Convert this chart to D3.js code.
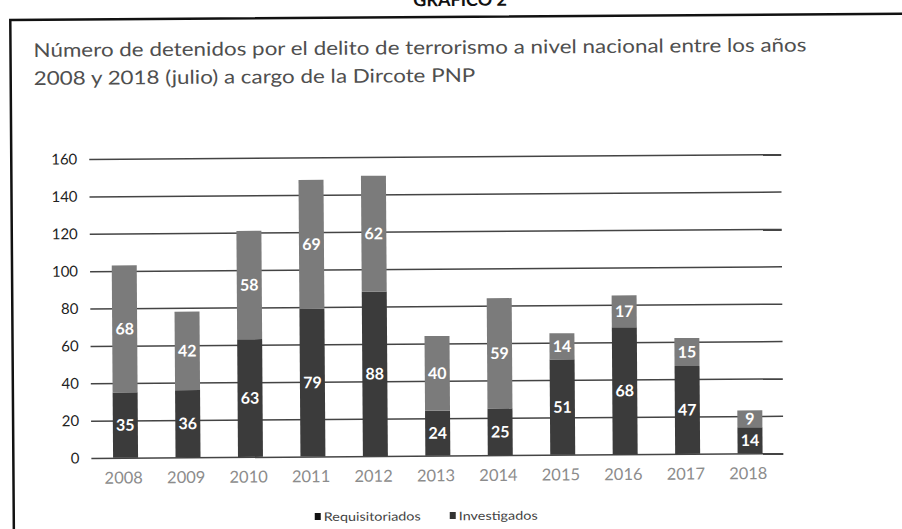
<!DOCTYPE html>
<html>
<head>
<meta charset="utf-8">
<script src="https://cdn.jsdelivr.net/npm/d3@7"></script>
<style>
  body { margin: 0; background: #fff; }
  svg { display: block; font-family: Lato, "Open Sans", sans-serif; }
</style>
</head>
<body>
<div id="chart"></div>
<script>
// Detenidos por terrorismo (Dircote PNP), 2008 - 2018 (julio)
const years = ['2008', '2009', '2010', '2011', '2012', '2013', '2014', '2015', '2016', '2017', '2018'];
const requisitoriados = [35, 36, 63, 79, 88, 24, 25, 51, 68, 47, 14];
const investigados = [68, 42, 58, 69, 62, 40, 59, 14, 17, 15, 9];
const seriesNames = ['Requisitoriados', 'Investigados'];
const yTicks = [0, 20, 40, 60, 80, 100, 120, 140, 160];

const width = 902, height = 529;
const colors = { Requisitoriados: '#3b3b3b', Investigados: '#7b7b7b' };

const rows = years.map((y, i) => ({ year: y, Requisitoriados: requisitoriados[i], Investigados: investigados[i] }));
const stacked = d3.stack().keys(seriesNames)(rows);

const svg = d3.select('#chart')
  .append('svg')
  .attr('width', width)
  .attr('height', height);

// scanned page is slightly tilted
const page = svg.append('g').attr('transform', 'rotate(-0.4, 451, 264)');

// header, mostly cut off at the top of the scan
page.append('text')
  .attr('x', 462)
  .attr('y', 6)
  .attr('text-anchor', 'middle')
  .attr('font-size', 18)
  .attr('font-weight', 'bold')
  .attr('fill', '#111')
  .text('GRÁFICO 2');

// frame
page.append('path')
  .attr('d', 'M12,540 L12,17 L910,17')
  .attr('fill', 'none')
  .attr('stroke', '#111')
  .attr('stroke-width', 2.5);

// title (scan is a bit stretched sideways)
const title = page.append('text')
  .attr('transform', 'translate(35,0) scale(1.18,1)')
  .attr('fill', '#4f4f4f')
  .attr('font-size', 19);
title.append('tspan').attr('x', 0).attr('y', 54)
  .text('Número de detenidos por el delito de terrorismo a nivel nacional entre los años');
title.append('tspan').attr('x', 0).attr('y', 82)
  .text('2008 y 2018 (julio) a cargo de la Dircote PNP');

const x = d3.scaleBand()
  .domain(years)
  .range([93, 780])
  .paddingInner(0.6)
  .paddingOuter(0.3);

const y = d3.scaleLinear()
  .domain([0, 160])
  .range([455.5, 156.5]);

// gridlines + y labels
const yAxis = page.append('g')
  .attr('transform', 'translate(90,0)')
  .call(d3.axisLeft(y).tickValues(yTicks).tickSize(-692).tickPadding(12));
yAxis.select('.domain').remove();
yAxis.selectAll('.tick line').attr('stroke', '#444').attr('stroke-width', 1.5);
yAxis.selectAll('.tick text')
  .attr('font-size', 15)
  .attr('fill', '#222')
  .attr('font-family', 'Lato, sans-serif');

// x labels
const xAxis = page.append('g')
  .attr('transform', `translate(-2,${y(0)})`)
  .call(d3.axisBottom(x).tickSize(0).tickPadding(14));
xAxis.select('.domain').remove();
xAxis.selectAll('.tick text')
  .attr('font-size', 16.5)
  .attr('fill', '#8c8c8c')
  .attr('font-family', 'Lato, sans-serif');

// stacked bars
const layer = page.selectAll('g.layer')
  .data(stacked)
  .enter()
  .append('g')
  .attr('class', 'layer')
  .attr('fill', d => colors[d.key]);

layer.selectAll('rect')
  .data(d => d)
  .enter()
  .append('rect')
  .attr('x', d => x(d.data.year))
  .attr('y', d => y(d[1]))
  .attr('width', x.bandwidth())
  .attr('height', d => y(d[0]) - y(d[1]));

// value labels
layer.selectAll('text')
  .data(d => d.map(p => ({ p, key: d.key })))
  .enter()
  .append('text')
  .attr('x', d => x(d.p.data.year) + x.bandwidth() / 2)
  .attr('y', d => y((d.p[0] + d.p[1]) / 2))
  .attr('dy', '0.35em')
  .attr('text-anchor', 'middle')
  .attr('font-size', 16)
  .attr('font-weight', 'bold')
  .attr('fill', '#fff')
  .text(d => d.p.data[d.key]);

// legend
const legend = page.append('g').attr('transform', 'translate(313,516)');
const legendX = [0, 135];
seriesNames.forEach((name, i) => {
  const g = legend.append('g').attr('transform', `translate(${legendX[i]},0)`);
  g.append('rect')
    .attr('x', 0).attr('y', -4)
    .attr('width', 6).attr('height', 7)
    .attr('fill', i === 0 ? '#111' : '#333');
  g.append('text')
    .attr('transform', 'translate(9,0) scale(1.2,1)')
    .attr('dy', '0.35em')
    .attr('font-size', 12)
    .attr('fill', '#444')
    .text(name);
});
</script>
</body>
</html>
